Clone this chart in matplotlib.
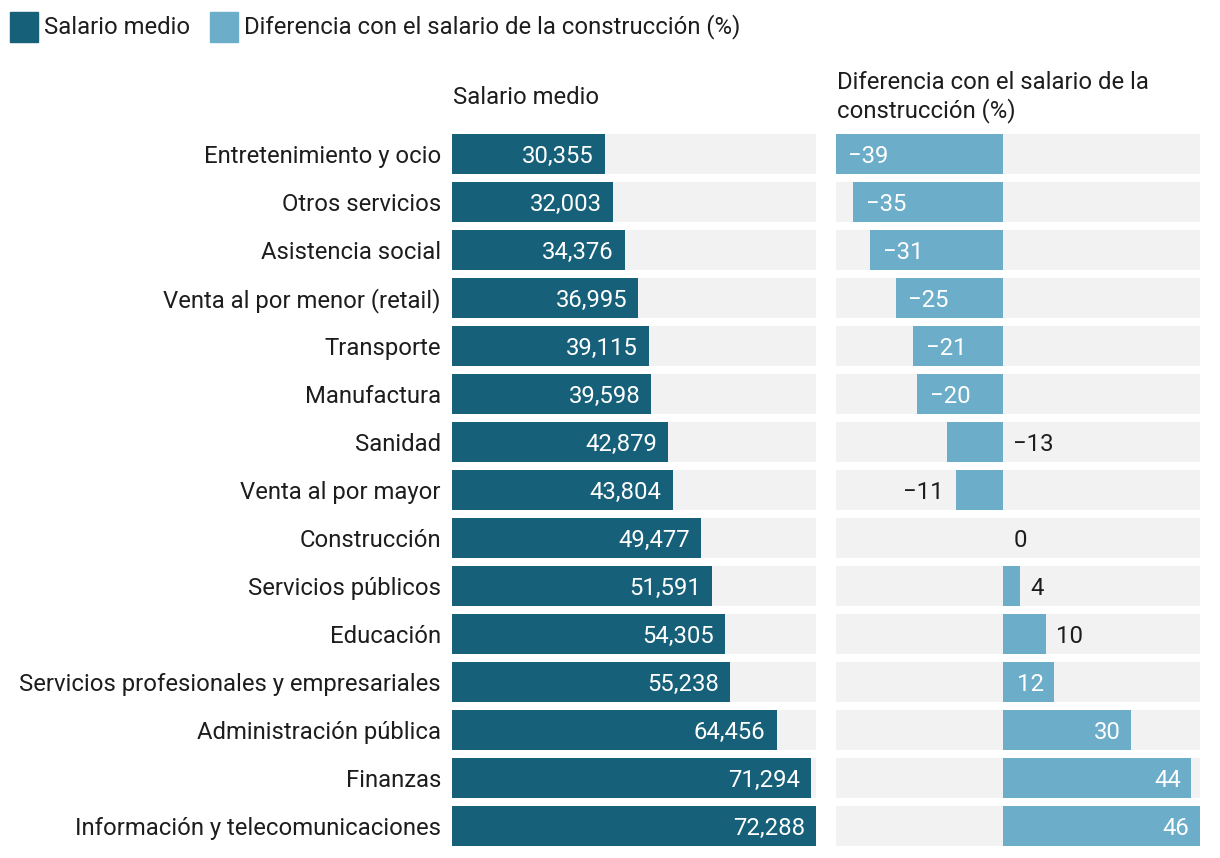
import matplotlib
matplotlib.use("Agg")
import matplotlib.pyplot as plt
from matplotlib.patches import Rectangle

plt.rcParams["font.family"] = ["Roboto", "DejaVu Sans"]

categories = [
    "Entretenimiento y ocio", "Otros servicios", "Asistencia social",
    "Venta al por menor (retail)", "Transporte", "Manufactura", "Sanidad",
    "Venta al por mayor", "Construcción", "Servicios públicos", "Educación",
    "Servicios profesionales y empresariales", "Administración pública",
    "Finanzas", "Información y telecomunicaciones",
]
salario = [30355, 32003, 34376, 36995, 39115, 39598, 42879, 43804,
           49477, 51591, 54305, 55238, 64456, 71294, 72288]
diferencia = [-39, -35, -31, -25, -21, -20, -13, -11, 0, 4, 10, 12, 30, 44, 46]
# where each difference label sits: inside the bar, or outside to the left/right
diff_side = ["in"] * 6 + ["right", "left", "right", "right", "right",
                          "in", "in", "in", "in"]

DARK = "#176079"
LIGHT = "#6cadca"
GRAY = "#f2f2f2"
TEXT = "#1d1d1d"
FS = 17.2
VA = "center_baseline"

W, H = 1220, 858
fig = plt.figure(figsize=(W / 100, H / 100), dpi=100)


def px_axes(x0, x1, y0, y1):
    return fig.add_axes([x0 / W, 1 - y1 / H, (x1 - x0) / W, (y1 - y0) / H])


n = len(categories)
ys = list(range(n))

# left panel: salario medio
ax1 = px_axes(452, 816, 130, 850)
ax1.set_xlim(0, max(salario))
ax1.set_ylim(n - 0.5, -0.5)
ax1.barh(ys, max(salario), height=40 / 48, color=GRAY)
ax1.barh(ys, salario, height=40 / 48, color=DARK)
for y, v in zip(ys, salario):
    ax1.annotate(f"{v:,}", (v, y), xytext=(-8, 0), textcoords="offset points",
                 ha="right", va=VA, color="white", fontsize=FS)
ax1.set_yticks(ys, categories, fontsize=FS, color=TEXT)
ax1.tick_params(axis="y", length=0, pad=8)
ax1.set_xticks([])
for s in ax1.spines.values():
    s.set_visible(False)

# right panel: diferencia
lo, hi = min(diferencia), max(diferencia)
ax2 = px_axes(836, 1200, 130, 850)
ax2.set_xlim(lo, hi)
ax2.set_ylim(n - 0.5, -0.5)
ax2.barh(ys, hi - lo, left=lo, height=40 / 48, color=GRAY)
ax2.barh(ys, diferencia, height=40 / 48, color=LIGHT)
for y, v, side in zip(ys, diferencia, diff_side):
    lab = f"{v}".replace("-", "\u2212")
    if side == "in":
        if v < 0:
            ax2.annotate(lab, (v, y), xytext=(9, 0), textcoords="offset points",
                         ha="left", va=VA, color="white", fontsize=FS)
        else:
            ax2.annotate(lab, (v, y), xytext=(-7.5, 0), textcoords="offset points",
                         ha="right", va=VA, color="white", fontsize=FS)
    elif side == "right":
        ax2.annotate(lab, (max(v, 0), y), xytext=(7.5, 0), textcoords="offset points",
                     ha="left", va=VA, color=TEXT, fontsize=FS)
    else:
        ax2.annotate(lab, (v, y), xytext=(-9, 0), textcoords="offset points",
                     ha="right", va=VA, color=TEXT, fontsize=FS)
ax2.set_xticks([])
ax2.set_yticks([])
for s in ax2.spines.values():
    s.set_visible(False)

# column headers
fig.text(453 / W, 1 - 97 / H, "Salario medio", fontsize=FS, color=TEXT,
         ha="left", va="center")
fig.text(837 / W, 1 - 97 / H, "Diferencia con el salario de la\nconstrucción (%)",
         fontsize=FS, color=TEXT, ha="left", va="center", linespacing=1.22)

# legend
for x0, col, lab in [(10, DARK, "Salario medio"),
                     (210, LIGHT, "Diferencia con el salario de la construcción (%)")]:
    fig.patches.append(Rectangle((x0 / W, 1 - 42 / H), 28 / W, 30 / H,
                                 transform=fig.transFigure, color=col))
    fig.text((x0 + 34) / W, 1 - 27 / H, lab, fontsize=FS, color=TEXT,
             ha="left", va="center")

fig.savefig("out.png", dpi=100)
